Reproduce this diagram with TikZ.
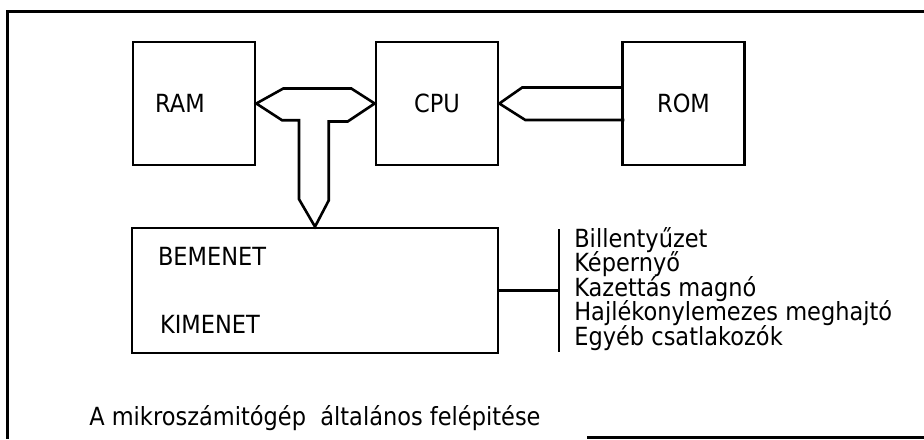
\documentclass[tikz,border=0pt]{standalone}
\usepackage{fontspec}
\setmainfont{DejaVu Sans}[FakeStretch=0.9]
\begin{document}
\begin{tikzpicture}[x=0.5pt, y=-0.5pt, line width=1.3pt,
    font=\fontsize{12.5pt}{14pt}\selectfont,
    unit/.style={draw, minimum width=61pt, minimum height=61.5pt, inner sep=0pt},
    lbl/.style={inner sep=0pt, anchor=base west},
    bus/.style={line join=miter}]
    \useasboundingbox (0,0) rectangle (924,439);
    \draw[line width=1.5pt] (924,11) -- (7,11) -- (7,439);
    \draw[line width=1.5pt] (587,437) -- (924,437);
    \node[unit] (ram) at (194,103.5) {RAM\hspace*{14pt}};
    \node[unit] (cpu) at (437,103.5) {CPU};
    \node[unit] (rom) at (683.5,103.5) {ROM};
    \node[draw, minimum width=183pt, minimum height=62.5pt, inner sep=0pt] (io) at (315,290.5) {};
    \node[lbl] (bemenet) at ([shift={(26,39)}]io.north west) {BEMENET};
    \node[lbl] (kimenet) at ([shift={(28,107)}]io.north west) {KIMENET};
    \draw[bus] (ram.east) -- ++(27,-15) -- ++(68,0) -- (cpu.west) -- ++(-27,18) -- ++(-19,0)
      -- ++(0,79) -- (io.north) -- ++(-16,-27.5) -- ++(0,-79) -- ++(-17,0) -- cycle;
    \draw[bus] (rom.west) ++(0,-16) -- ++(-99,0) -- (cpu.east) -- ++(26,16.5) -- ++(99,0);
    \coordinate (bartop) at (559,229);
    \coordinate (barbot) at (559,352);
    \draw (bartop) -- (barbot);
    \draw (io.east) -- (io.east -| bartop);
    \foreach \t [count=\i] in {Billentyűzet, Képernyő, Kazettás magnó, Hajlékonylemezes meghajtó, Egyéb csatlakozók}
      \node[lbl] (dev\i) at ({573},{222.5+24.5*\i}) {\t};
    \node[lbl] (caption) at (88,425) {A mikroszámitógép\ \ általános felépitése};
\end{tikzpicture}
\end{document}
